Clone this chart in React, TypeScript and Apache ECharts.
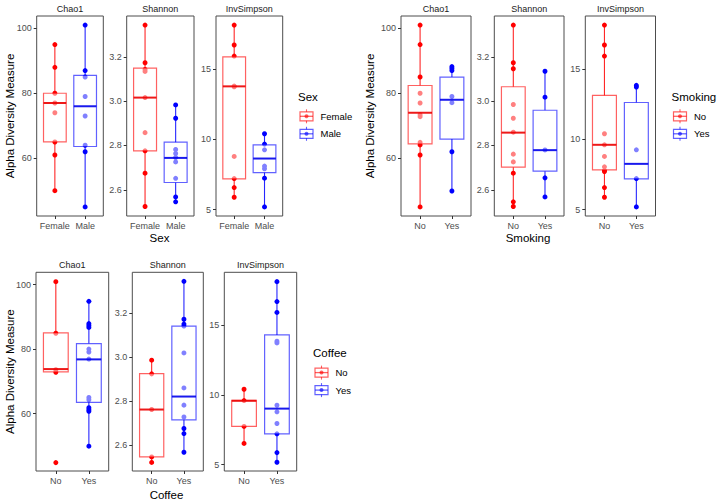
import React, { useEffect, useRef } from "react";
import * as echarts from "echarts";

const FONT = "'Liberation Sans', Arial, Helvetica, sans-serif";

// ---------- categories & labels ----------
const metrics = ["Chao1", "Shannon", "InvSimpson"];
const sexGroups = ["Female", "Male"];
const smokingGroups = ["No", "Yes"];
const coffeeGroups = ["No", "Yes"];
const yTitle = "Alpha Diversity Measure";

// ---------- axis scales ----------
const chao1Range = [42.2, 103.8];
const shannonRange = [2.482, 3.384];
const invSimpsonRange = [4.54, 18.81];
const chao1Ticks = [60, 80, 100];
const shannonTicks = [2.6, 2.8, 3.0, 3.2];
const invSimpsonTicks = [5, 10, 15];

// ---------- Sex ----------
const sexChao1Female = [95, 88, 80, 77, 74, 65, 61, 50];
const sexChao1Male = [101, 87, 85, 79, 73, 64, 62, 45];
const sexChao1Box = [
  [50, 65, 77, 80, 95],
  [45, 63.6, 76, 85.5, 101],
];
const sexShannonFemale = [3.343, 3.173, 3.143, 3.134, 3.016, 2.858, 2.776, 2.675, 2.525];
const sexShannonMale = [2.983, 2.923, 2.782, 2.764, 2.746, 2.726, 2.652, 2.568, 2.546];
const sexShannonBox = [
  [2.525, 2.776, 3.016, 3.149, 3.343],
  [2.546, 2.633, 2.744, 2.815, 2.983],
];
const sexInvSimpsonFemale = [18.16, 16.74, 15.95, 13.81, 13.76, 8.79, 7.21, 6.57, 5.88];
const sexInvSimpsonMale = [10.41, 9.67, 9.26, 8.1, 7.91, 7.24, 5.19];
const sexInvSimpsonBox = [
  [5.88, 7.19, 13.79, 15.9, 18.16],
  [5.19, 7.64, 8.64, 9.62, 10.41],
];

// ---------- Smoking ----------
const smokingChao1No = [101, 95, 85, 80, 77, 73.4, 72.8, 64.9, 64.1, 61, 45];
const smokingChao1Yes = [88.2, 87.6, 87, 79, 77.1, 62, 49.9];
const smokingChao1Box = [
  [45, 64.4, 74, 82.4, 101],
  [49.9, 65.9, 78, 85, 88.2],
];
const smokingShannonNo = [3.343, 3.173, 3.146, 2.985, 2.923, 2.86, 2.761, 2.726, 2.675, 2.546, 2.525];
const smokingShannonYes = [3.135, 3.018, 2.78, 2.654, 2.568];
const smokingShannonBox = [
  [2.525, 2.702, 2.858, 3.065, 3.343],
  [2.568, 2.684, 2.779, 2.959, 3.135],
];
const smokingInvSimpsonNo = [18.16, 16.74, 15.95, 10.41, 9.62, 8.79, 8.05, 7.79, 7.71, 6.57, 5.88];
const smokingInvSimpsonYes = [13.86, 13.74, 9.26, 7.21, 5.19];
const smokingInvSimpsonBox = [
  [5.88, 7.83, 9.62, 13.14, 18.16],
  [5.19, 7.19, 8.26, 12.64, 13.86],
];

// ---------- Coffee ----------
const coffeeChao1No = [100.9, 84.9, 73.6, 72.8, 44.8];
const coffeeChao1Yes = [94.8, 87.9, 87.3, 86.7, 80, 79.1, 76.9, 65, 64.3, 61.8, 61.2, 60.7, 49.9];
const coffeeChao1Box = [
  [72.9, 72.9, 73.8, 85, 100.9],
  [49.9, 63.5, 76.8, 81.7, 94.8],
];
const coffeeShannonNo = [2.985, 2.923, 2.761, 2.546, 2.521];
const coffeeShannonYes = [3.343, 3.171, 3.149, 3.14, 3.018, 2.859, 2.781, 2.727, 2.675, 2.652, 2.567];
const coffeeShannonBox = [
  [2.521, 2.546, 2.761, 2.924, 2.985],
  [2.567, 2.714, 2.82, 3.14, 3.343],
];
const coffeeInvSimpsonNo = [10.41, 9.6, 7.74, 6.52];
const coffeeInvSimpsonYes = [18.14, 16.71, 15.93, 13.86, 13.74, 9.26, 8.79, 7.95, 7.21, 5.86, 5.17];
const coffeeInvSimpsonBox = [
  [6.52, 7.74, 9.58, 9.62, 10.41],
  [5.17, 7.21, 9.02, 14.31, 18.14],
];

// ---------- styling ----------
const solidColors = ["#ff0000", "#0000ff"];
const boxColors = ["rgba(255,0,0,0.62)", "rgba(0,0,255,0.62)"];
const medianColors = ["rgba(235,0,0,0.9)", "rgba(0,0,235,0.9)"];

const metricScale: Record<string, { range: number[]; ticks: number[]; fmt: (v: number) => string }> = {
  Chao1: { range: chao1Range, ticks: chao1Ticks, fmt: (v) => String(Math.round(v)) },
  Shannon: { range: shannonRange, ticks: shannonTicks, fmt: (v) => v.toFixed(1) },
  InvSimpson: { range: invSimpsonRange, ticks: invSimpsonTicks, fmt: (v) => String(Math.round(v)) },
};

const facetData = [
  {
    name: "Sex",
    groups: sexGroups,
    points: [
      [sexChao1Female, sexChao1Male],
      [sexShannonFemale, sexShannonMale],
      [sexInvSimpsonFemale, sexInvSimpsonMale],
    ],
    boxes: [sexChao1Box, sexShannonBox, sexInvSimpsonBox],
  },
  {
    name: "Smoking",
    groups: smokingGroups,
    points: [
      [smokingChao1No, smokingChao1Yes],
      [smokingShannonNo, smokingShannonYes],
      [smokingInvSimpsonNo, smokingInvSimpsonYes],
    ],
    boxes: [smokingChao1Box, smokingShannonBox, smokingInvSimpsonBox],
  },
  {
    name: "Coffee",
    groups: coffeeGroups,
    points: [
      [coffeeChao1No, coffeeChao1Yes],
      [coffeeShannonNo, coffeeShannonYes],
      [coffeeInvSimpsonNo, coffeeInvSimpsonYes],
    ],
    boxes: [coffeeChao1Box, coffeeShannonBox, coffeeInvSimpsonBox],
  },
];

// layout (pixels)
const layouts = [
  {
    panels: [[36.7, 103.3], [126.7, 194], [216, 282.7]],
    top: 16, bottom: 216, stripY: 9,
    xTitle: { x: 159.5, y: 238 }, yTitleX: 9.5,
    legend: { x: 298, y: 97 },
  },
  {
    panels: [[401, 471], [494.3, 564], [585.3, 655.5]],
    top: 16, bottom: 216, stripY: 9,
    xTitle: { x: 528, y: 238 }, yTitleX: 369.5,
    legend: { x: 671.5, y: 97 },
  },
  {
    panels: [[36, 108.7], [132.3, 203.3], [224.3, 296.7]],
    top: 272.3, bottom: 471, stripY: 265,
    xTitle: { x: 166.5, y: 494.5 }, yTitleX: 9.5,
    legend: { x: 313, y: 353.3 },
  },
];

function buildOption() {
  const grid: any[] = [];
  const xAxis: any[] = [];
  const yAxis: any[] = [];
  const series: any[] = [];
  const graphic: any[] = [];

  facetData.forEach((fd, fi) => {
    const lay = layouts[fi];
    metrics.forEach((m, mi) => {
      const gi = grid.length;
      const [x1, x2] = lay.panels[mi];
      const sc = metricScale[m];
      grid.push({
        left: x1,
        top: lay.top,
        width: x2 - x1,
        height: lay.bottom - lay.top,
        show: true,
        borderColor: "#4d4d4d",
        borderWidth: 1,
        backgroundColor: "transparent",
        containLabel: false,
      });
      xAxis.push({
        gridIndex: gi,
        type: "value",
        min: 0.4,
        max: 2.6,
        axisLine: { show: false },
        splitLine: { show: false },
        axisTick: { show: true, customValues: [1, 2], length: 3, lineStyle: { color: "#333", width: 1 } },
        axisLabel: {
          customValues: [1, 2],
          formatter: (v: number) => fd.groups[Math.round(v) - 1] ?? "",
          color: "#4d4d4d",
          fontSize: 9,
          fontFamily: FONT,
          margin: 5,
        },
      });
      yAxis.push({
        gridIndex: gi,
        type: "value",
        min: sc.range[0],
        max: sc.range[1],
        axisLine: { show: false },
        splitLine: { show: false },
        axisTick: { show: true, customValues: sc.ticks, length: 3, lineStyle: { color: "#333", width: 1 } },
        axisLabel: {
          customValues: sc.ticks,
          formatter: (v: number) => sc.fmt(v),
          color: "#4d4d4d",
          fontSize: 9,
          fontFamily: FONT,
          margin: 5,
        },
      });
      // points
      fd.points[mi].forEach((vals, gIdx) => {
        series.push({
          type: "scatter",
          xAxisIndex: gi,
          yAxisIndex: gi,
          symbolSize: 5,
          z: 2,
          itemStyle: { color: solidColors[gIdx], opacity: 1 },
          data: vals.map((v) => [gIdx + 1, v]),
          silent: true,
        });
      });
      // boxes
      series.push({
        type: "custom",
        xAxisIndex: gi,
        yAxisIndex: gi,
        z: 3,
        silent: true,
        data: fd.boxes[mi].map((b, gIdx) => [gIdx + 1, ...b]),
        renderItem: (params: any, api: any) => {
          const xi = api.value(0);
          const idx = params.dataIndex;
          const pLow = api.coord([xi, api.value(1)]);
          const pQ1 = api.coord([xi, api.value(2)]);
          const pMed = api.coord([xi, api.value(3)]);
          const pQ3 = api.coord([xi, api.value(4)]);
          const pHigh = api.coord([xi, api.value(5)]);
          const bw = api.size([0.75, 0])[0];
          const cx = pMed[0];
          return {
            type: "group",
            children: [
              {
                type: "line",
                shape: { x1: cx, y1: pHigh[1], x2: cx, y2: pQ3[1] },
                style: { stroke: solidColors[idx], lineWidth: 1.1, opacity: 0.85 },
              },
              {
                type: "line",
                shape: { x1: cx, y1: pQ1[1], x2: cx, y2: pLow[1] },
                style: { stroke: solidColors[idx], lineWidth: 1.1, opacity: 0.85 },
              },
              {
                type: "rect",
                shape: { x: cx - bw / 2, y: pQ3[1], width: bw, height: pQ1[1] - pQ3[1] },
                style: { fill: "rgba(255,255,255,0.5)", stroke: boxColors[idx], lineWidth: 1.2 },
              },
              {
                type: "line",
                shape: { x1: cx - bw / 2, y1: pMed[1], x2: cx + bw / 2, y2: pMed[1] },
                style: { stroke: medianColors[idx], lineWidth: 2 },
              },
            ],
          };
        },
      });
      // facet strip title
      graphic.push({
        type: "text",
        x: (x1 + x2) / 2,
        y: lay.stripY,
        style: {
          text: m,
          fontSize: 9,
          fontFamily: FONT,
          fill: "#1a1a1a",
          align: "center",
          verticalAlign: "middle",
        },
      });
    });

    // x axis title
    graphic.push({
      type: "text",
      x: lay.xTitle.x,
      y: lay.xTitle.y,
      style: { text: fd.name, fontSize: 11.5, fontFamily: FONT, fill: "#000", align: "center", verticalAlign: "middle" },
    });
    // y axis title
    graphic.push({
      type: "text",
      x: lay.yTitleX,
      y: (lay.top + lay.bottom) / 2,
      rotation: Math.PI / 2,
      style: { text: yTitle, fontSize: 11.5, fontFamily: FONT, fill: "#000", align: "center", verticalAlign: "middle" },
    });
    // legend
    const lg = lay.legend;
    graphic.push({
      type: "text",
      x: lg.x,
      y: lg.y,
      style: { text: fd.name, fontSize: 11.5, fontFamily: FONT, fill: "#000", align: "left", verticalAlign: "middle" },
    });
    fd.groups.forEach((g, gIdx) => {
      const ky = lg.y + (gIdx === 0 ? 19.3 : 36.8);
      const kx = lg.x + 8.5;
      graphic.push({
        type: "group",
        children: [
          { type: "line", shape: { x1: kx, y1: ky - 7, x2: kx, y2: ky + 7 }, style: { stroke: boxColors[gIdx], lineWidth: 1.1 } },
          { type: "rect", shape: { x: kx - 6.5, y: ky - 4.5, width: 13, height: 9 }, style: { fill: "#fff", stroke: boxColors[gIdx], lineWidth: 1.2 } },
          { type: "line", shape: { x1: kx - 6.5, y1: ky, x2: kx + 6.5, y2: ky }, style: { stroke: boxColors[gIdx], lineWidth: 1.3 } },
          { type: "circle", shape: { cx: kx, cy: ky, r: 2 }, style: { fill: boxColors[gIdx] } },
        ],
      });
      graphic.push({
        type: "text",
        x: lg.x + 22.5,
        y: ky,
        style: { text: g, fontSize: 9.5, fontFamily: FONT, fill: "#000", align: "left", verticalAlign: "middle" },
      });
    });
  });

  return {
    animation: false,
    backgroundColor: "#ffffff",
    textStyle: { fontFamily: FONT },
    grid,
    xAxis,
    yAxis,
    series,
    graphic,
  };
}

export default function App() {
  const ref = useRef<HTMLDivElement>(null);
  useEffect(() => {
    if (!ref.current) return;
    const chart = echarts.init(ref.current, undefined, { renderer: "svg" });
    chart.setOption(buildOption() as any);
    return () => chart.dispose();
  }, []);
  return (
    <div
      ref={ref}
      style={{ position: "fixed", left: 0, top: 0, width: 718, height: 504, background: "#fff" }}
    />
  );
}
